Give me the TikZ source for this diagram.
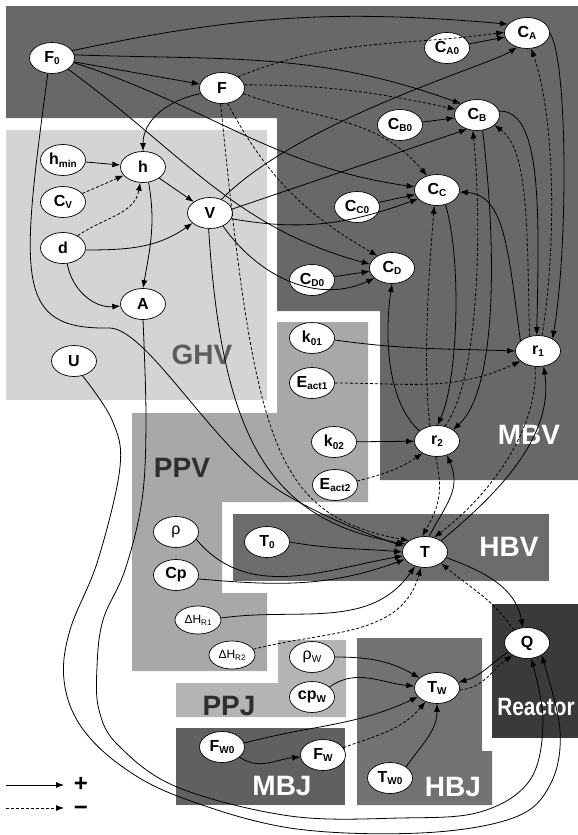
\documentclass[tikz,border=0pt]{standalone}
\usepackage{fontspec}
\setmainfont{Liberation Sans}
\newfontfamily\narrowsans[FakeStretch=0.83]{Liberation Sans}
\usetikzlibrary{arrows.meta,shapes.geometric}
\definecolor{clMBV}{HTML}{686868}
\definecolor{clGHV}{HTML}{D4D4D4}
\definecolor{clPPV}{HTML}{A8A8A8}
\definecolor{clHBV}{HTML}{6C6C6C}
\definecolor{clPPJ}{HTML}{B4B4B4}
\definecolor{clMBJ}{HTML}{606060}
\definecolor{clHBJ}{HTML}{727272}
\definecolor{clReac}{HTML}{3A3A3A}
\definecolor{clGHVtext}{HTML}{5C5C5C}
\definecolor{clPPtext}{HTML}{2E2E2E}
\newcommand\lo[1]{\raisebox{-2.5pt}{\fontsize{10}{10}\selectfont #1}}
\newcommand\los[1]{\raisebox{-2pt}{\fontsize{8}{8}\selectfont #1}}
\tikzset{
  varnode/.style={ellipse, draw, line width=0.7pt, fill=white, inner sep=0pt,
                  minimum width=45pt, minimum height=31pt,
                  font=\fontsize{16}{16}\bfseries\selectfont},
  smallvar/.style={varnode, minimum width=46pt, minimum height=28pt,
                  font=\fontsize{12}{12}\selectfont},
  plusflow/.style={-{Latex[length=8pt,width=6pt]}, line width=0.8pt},
  minusflow/.style={plusflow, dash pattern=on 3pt off 2pt},
  zonelabel/.style={font=\fontsize{28}{28}\bfseries\selectfont, text=white, inner sep=0pt},
  legendsign/.style={font=\fontsize{24}{24}\bfseries\selectfont, inner sep=0pt},
}
\begin{document}
\begin{tikzpicture}[x=1pt,y=1pt]
  \useasboundingbox (0,0) rectangle (578,-835);
  % regions
  \fill[clMBV] (6,-6) -- (578,-6) -- (578,-480) -- (380,-480) -- (380,-311) -- (277,-311) -- (277,-118) -- (6,-118) -- cycle;
  \fill[clGHV] (6,-130) rectangle (267,-400);
  \fill[clPPV] (132,-413) -- (277,-413) -- (277,-322) -- (368,-322) -- (368,-502) -- (222,-502) -- (222,-593) -- (267,-593) -- (267,-671) -- (132,-671) -- cycle;
  \fill[clHBV] (233,-514) rectangle (549,-581);
  \fill[clPPJ] (176,-683) -- (278,-683) -- (278,-640) -- (346,-640) -- (346,-717) -- (176,-717) -- cycle;
  \fill[clMBJ] (176,-728) rectangle (345,-805);
  \fill[clHBJ] (357,-638) -- (482,-638) -- (482,-751) -- (492,-751) -- (492,-805) -- (357,-805) -- cycle;
  \fill[clReac] (492,-604) rectangle (578,-738);

  \node[zonelabel, text=clGHVtext] (lGHV) at (202,-355) {GHV};
  \node[zonelabel] (lMBV) at (529,-435) {MBV};
  \node[zonelabel, text=clPPtext] (lPPV) at (182,-468) {PPV};
  \node[zonelabel] (lHBV) at (509,-547) {HBV};
  \node[zonelabel, text=clPPtext] (lPPJ) at (229,-706) {PPJ};
  \node[zonelabel] (lMBJ) at (282,-786) {MBJ};
  \node[zonelabel] (lHBJ) at (453,-787) {HBJ};
  \node[zonelabel, font=\fontsize{25}{25}\narrowsans\bfseries] (lReac) at (536,-707) {Reactor};

  % variables
  \node[varnode] (F0) at (52,-58) {F\lo{0}};
  \node[varnode] (F) at (222,-88) {F};
  \node[varnode] (CA) at (527,-33) {C\lo{A}};
  \node[varnode] (CA0) at (447,-48) {C\lo{A0}};
  \node[varnode] (CB) at (477,-115) {C\lo{B}};
  \node[varnode] (CB0) at (400,-125) {C\lo{B0}};
  \node[varnode] (CC) at (437,-190) {C\lo{C}};
  \node[varnode] (CC0) at (357,-207) {C\lo{C0}};
  \node[varnode] (CD) at (392,-268) {C\lo{D}};
  \node[varnode] (CD0) at (312,-280) {C\lo{D0}};
  \node[varnode] (hmin) at (63,-160) {h\lo{min}};
  \node[varnode] (h) at (143,-167) {h};
  \node[varnode] (Cv) at (63,-202) {C\lo{V}};
  \node[varnode] (d) at (63,-248) {d};
  \node[varnode] (V) at (210,-213) {V};
  \node[varnode] (A) at (143,-304) {A};
  \node[varnode] (U) at (74,-361) {U};
  \node[varnode] (k01) at (312,-338) {k\lo{01}};
  \node[varnode] (Eact1) at (312,-383) {E\lo{act1}};
  \node[varnode] (r1) at (538,-351) {r\lo{1}};
  \node[varnode] (k02) at (334,-442) {k\lo{02}};
  \node[varnode] (r2) at (437,-441) {r\lo{2}};
  \node[varnode] (Eact2) at (335,-485) {E\lo{act2}};
  \node[varnode] (T) at (425,-552) {T};
  \node[varnode] (T0) at (267,-542) {T\lo{0}};
  \node[varnode, font=\fontsize{16}{16}\selectfont] (rho) at (176,-532) {ρ};
  \node[varnode] (Cp) at (176,-575) {Cp};
  \node[smallvar] (DHR1) at (198,-620) {ΔH\los{R1}};
  \node[smallvar] (DHR2) at (232,-655) {ΔH\los{R2}};
  \node[varnode, font=\fontsize{16}{16}\selectfont] (rhow) at (312,-657) {ρ\lo{W}};
  \node[varnode] (cpw) at (312,-697) {cp\lo{W}};
  \node[varnode] (TW) at (437,-688) {T\lo{W}};
  \node[varnode] (Q) at (527,-643) {Q};
  \node[varnode] (FW0) at (222,-747) {F\lo{W0}};
  \node[varnode] (FW) at (323,-755) {F\lo{W}};
  \node[varnode] (TW0) at (390,-778) {T\lo{W0}};

  % feed
  \draw[plusflow] (F0.20) to[out=12,in=175] (CA.155);
  \draw[plusflow] (F0.8) to[out=-2,in=160] (CB.145);
  \draw[plusflow] (F0) -- (F);
  \draw[plusflow] (F0.-12) to[out=-18,in=172] (CC.172);
  \draw[plusflow] (F0.-35) to[out=-36,in=165] (CD.170);
  \draw[plusflow] (F0.255) .. controls (20,-280) and (15,-330) .. (110,-328)
    .. controls (150,-330) and (220,-460) .. (290,-497)
    .. controls (330,-520) and (370,-535) .. (T.165);
  \draw[plusflow] (F.195) to[out=190,in=90] (h.north);
  \draw[minusflow] (F.35) to[out=22,in=188] (CA.178);
  \draw[minusflow] (F.8) to[out=0,in=168] (CB.165);
  \draw[minusflow] (F.-15) to[out=-20,in=130] (CC.125);
  \draw[minusflow] (F.-70) to[out=-62,in=150] (CD.140);
  \draw[minusflow] (F.-95) .. controls (255,-450) and (275,-515) .. (T.145);

  % geometry
  \draw[plusflow] (hmin) -- (h);
  \draw[minusflow] (Cv) -- (h);
  \draw[minusflow] (d.40) to[out=35,in=-100] (h.-100);
  \draw[plusflow] (h) -- (V);
  \draw[plusflow] (h.-70) to[out=-80,in=80] (A.north);
  \draw[plusflow] (d.-5) to[out=0,in=215] (V.210);
  \draw[plusflow] (d.-75) to[out=-80,in=185] (A.185);
  \draw[plusflow] (V.50) .. controls (300,-120) and (490,-65) .. (CA.235);
  \draw[plusflow] (V.10) -- (CB.235);
  \draw[plusflow] (V.-15) to[out=-10,in=200] (CC.205);
  \draw[plusflow] (V.-45) to[out=-55,in=205] (CD.210);
  \draw[plusflow] (V.265) .. controls (222,-440) and (270,-520) .. (T.158);

  % mass balance
  \draw[plusflow] (CA0) -- (CA);
  \draw[plusflow] (CB0) -- (CB);
  \draw[plusflow] (CC0) -- (CC);
  \draw[plusflow] (CD0) -- (CD);
  \draw[plusflow] (CA.east) .. controls (568,-60) and (568,-250) .. (r1.40);
  \draw[minusflow] (r1.75) .. controls (556,-250) and (556,-120) .. (CA.-75);
  \draw[plusflow] (CB.10) .. controls (540,-110) and (540,-200) .. (r1.95);
  \draw[minusflow] (r1.120) .. controls (527,-220) and (528,-150) .. (CB.-30);
  \draw[plusflow] (CB.-70) .. controls (497,-250) and (497,-390) .. (r2.35);
  \draw[minusflow] (r2.62) .. controls (480,-380) and (482,-220) .. (CB.-105);
  \draw[plusflow] (CC.-60) .. controls (462,-260) and (458,-380) .. (r2.88);
  \draw[minusflow] (r2.115) .. controls (422,-360) and (430,-260) .. (CC.-100);
  \draw[plusflow] (r1.150) .. controls (508,-250) and (505,-195) .. (CC.-5);
  \draw[plusflow] (r2.150) .. controls (385,-400) and (385,-330) .. (CD.-90);
  \draw[plusflow] (k01.-5) to[out=-8,in=178] (r1.180);
  \draw[minusflow] (Eact1) to[out=0,in=205] (r1.210);
  \draw[plusflow] (k02) -- (r2);
  \draw[minusflow] (Eact2.10) to[out=15,in=215] (r2.220);

  % heat balance
  \draw[plusflow] (T.35) .. controls (490,-500) and (555,-440) .. (r1.-70);
  \draw[minusflow] (r1.-100) .. controls (538,-430) and (490,-495) .. (T.58);
  \draw[plusflow] (T.75) .. controls (445,-505) and (462,-490) .. (r2.-55);
  \draw[minusflow] (r2.-95) .. controls (443,-490) and (440,-505) .. (T.100);
  \draw[plusflow] (T.-15) to[out=-20,in=100] (Q.105);
  \draw[minusflow] (Q.135) to[out=125,in=-40] (T.-35);
  \draw[plusflow] (T0.east) to[out=-10,in=175] (T.180);
  \draw[plusflow] (rho.-20) to[out=-50,in=190] (T.190);
  \draw[plusflow] (Cp.-10) to[out=-5,in=200] (T.200);
  \draw[plusflow] (DHR1.5) to[out=8,in=235] (T.235);
  \draw[minusflow] (DHR2.15) to[out=15,in=255] (T.255);

  % jacket
  \draw[plusflow] (Q.205) to[out=215,in=15] (TW.15);
  \draw[minusflow] (TW.-5) to[out=5,in=215] (Q.220);
  \draw[plusflow] (rhow.east) to[out=0,in=150] (TW.150);
  \draw[plusflow] (cpw.30) to[out=35,in=175] (TW.175);
  \draw[plusflow] (FW0.10) to[out=15,in=205] (TW.205);
  \draw[plusflow] (FW0.-30) to[out=-35,in=185] (FW.185);
  \draw[minusflow] (FW.20) to[out=20,in=230] (TW.230);
  \draw[plusflow] (TW0.35) to[out=55,in=-90] (TW.-90);

  % long loops to Q
  \draw[plusflow] plot[smooth, tension=0.6] coordinates {(U.-60) (112,-420) (120,-467) (98,-560) (70,-630) (64,-680) (80,-725) (120,-765) (180,-797) (290,-828) (420,-833) (513,-818) (550,-785) (560,-730) (Q.-40)};
  \draw[plusflow] plot[smooth, tension=0.6] coordinates {(A.south) (146,-420) (142,-500) (125,-570) (103,-620) (97,-667) (99,-710) (118,-745) (177,-787) (290,-816) (400,-818) (480,-812) (530,-780) (543,-720) (Q.-75)};

  % legend
  \coordinate (lgA) at (6,-785);
  \coordinate (lgAend) at (64,-785);
  \coordinate (lgB) at (6,-808);
  \coordinate (lgBend) at (64,-808);
  \draw[plusflow] (lgA) -- (lgAend);
  \draw[minusflow] (lgB) -- (lgBend);
  \node[legendsign] (lgplus) at (81,-784) {+};
  \node[legendsign] (lgminus) at (81,-811) {−};
\end{tikzpicture}
\end{document}
